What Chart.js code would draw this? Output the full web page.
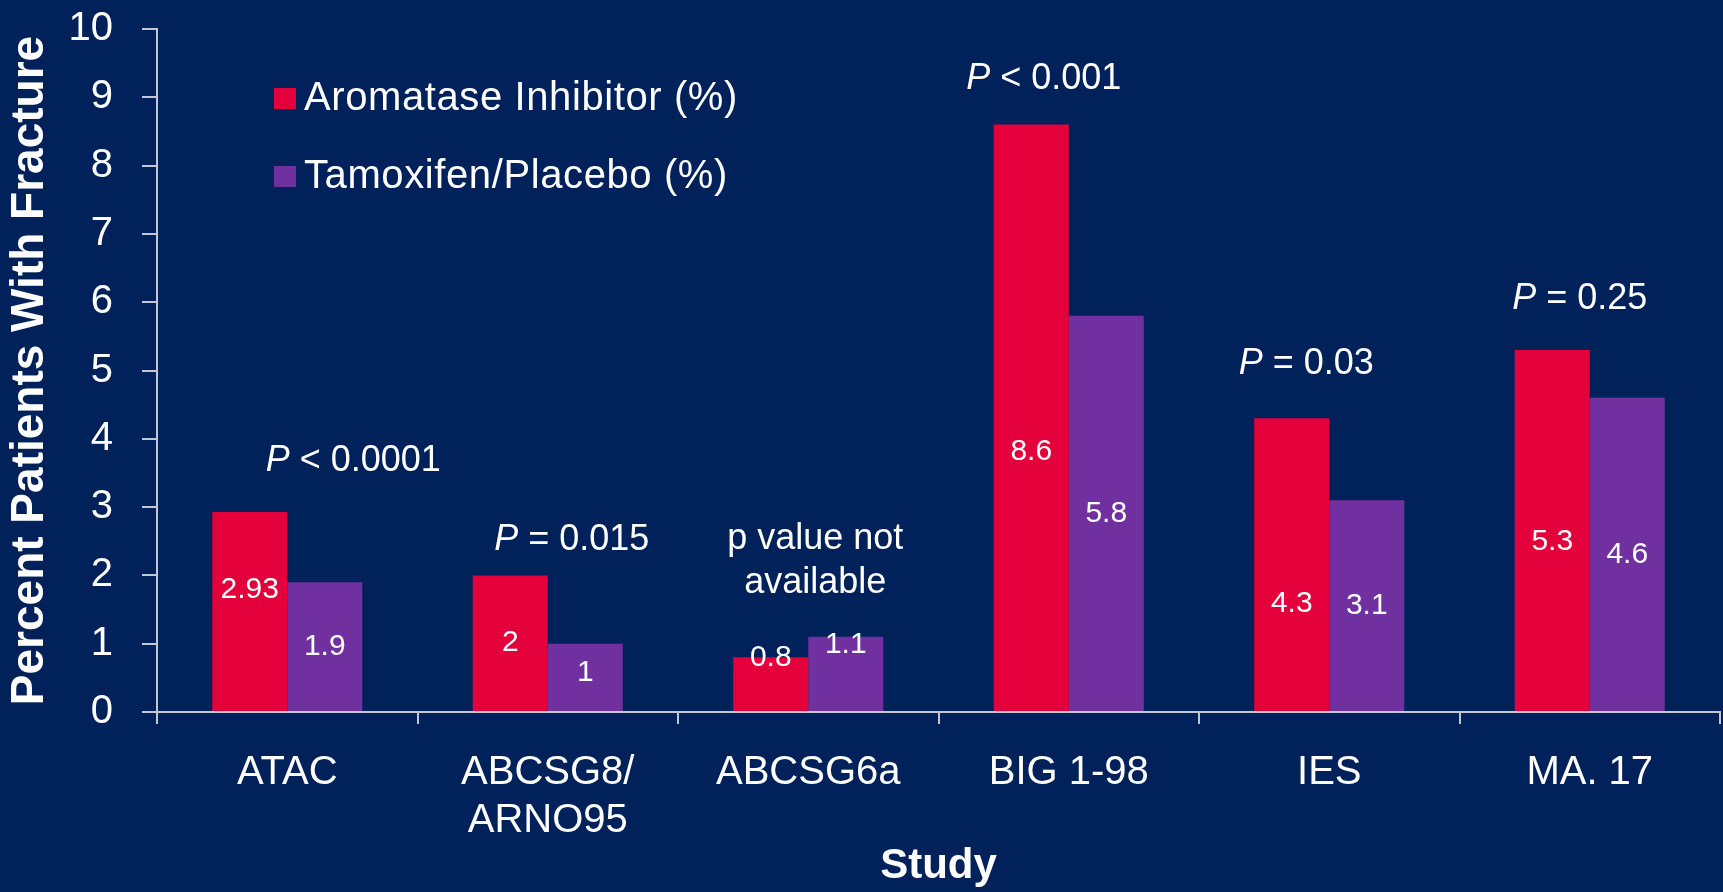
<!DOCTYPE html>
<html>
<head>
<meta charset="utf-8">
<script src="https://cdn.jsdelivr.net/npm/chart.js@4.4.1/dist/chart.umd.min.js"></script>
<style>
  html, body { margin: 0; padding: 0; background: #00215A; }
  #wrap { width: 1723px; height: 892px; }
</style>
</head>
<body>
<div id="wrap"><canvas id="fractures" width="1723" height="892"></canvas></div>
<script>
// Fracture rates by adjuvant endocrine therapy trial
const studies = ['ATAC', ['ABCSG8/', 'ARNO95'], 'ABCSG6a', 'BIG 1-98', 'IES', 'MA. 17'];
const aromataseInhibitor = [2.93, 2, 0.8, 8.6, 4.3, 5.3];
const tamoxifenPlacebo = [1.9, 1, 1.1, 5.8, 3.1, 4.6];
const pValueNotes = ['P < 0.0001', 'P = 0.015', ['p value not', 'available'], 'P < 0.001', 'P = 0.03', 'P = 0.25'];
const seriesNames = ['Aromatase Inhibitor (%)', 'Tamoxifen/Placebo (%)'];
const yTickValues = [0, 1, 2, 3, 4, 5, 6, 7, 8, 9, 10];

const FONT = "'Liberation Sans', Arial, Helvetica, sans-serif";
const NAVY = '#00215A';
const RED = '#E4003B';
const PURPLE = '#7030A0';
const AXIS = '#C3C7D3';

// Pixel nudges for the in-bar value labels (per series, per study)
const valueLabelNudge = [
  [-22, 0, -26, 34, 39, 11],
  [0, -5, -29, 0, 0, 0]
];
// Horizontal / vertical nudges for the significance notes
const noteNudge = [
  { dx: 66, dy: 3 }, { dx: 24, dy: 19 }, { dx: 7, dy: 0 },
  { dx: -25, dy: 8 }, { dx: -23, dy: 0 }, { dx: -10, dy: 3 }
];

const background = {
  id: 'background',
  beforeDraw(chart) {
    const ctx = chart.ctx;
    ctx.save();
    ctx.fillStyle = NAVY;
    ctx.fillRect(0, 0, chart.width, chart.height);
    ctx.restore();
  }
};

const valueLabels = {
  id: 'valueLabels',
  afterDatasetsDraw(chart) {
    const ctx = chart.ctx;
    ctx.save();
    ctx.font = '30px ' + FONT;
    ctx.fillStyle = '#FFFFFF';
    ctx.textAlign = 'center';
    ctx.textBaseline = 'middle';
    chart.data.datasets.forEach((ds, di) => {
      const meta = chart.getDatasetMeta(di);
      meta.data.forEach((bar, i) => {
        const y = (bar.y + bar.base) / 2 + valueLabelNudge[di][i];
        ctx.fillText(String(ds.data[i]), bar.x, y);
      });
    });
    ctx.restore();
  }
};

const significanceNotes = {
  id: 'significanceNotes',
  afterDatasetsDraw(chart) {
    const ctx = chart.ctx;
    const xs = chart.scales.x, ys = chart.scales.y;
    ctx.save();
    ctx.fillStyle = '#FFFFFF';
    ctx.textBaseline = 'middle';
    pValueNotes.forEach((note, i) => {
      const cx = xs.getPixelForValue(i) + noteNudge[i].dx;
      const peak = Math.max(aromataseInhibitor[i], tamoxifenPlacebo[i]);
      const baseY = ys.getPixelForValue(peak) - 54 + noteNudge[i].dy;
      const lines = Array.isArray(note) ? note : [note];
      lines.forEach((line, li) => {
        const y = baseY - (lines.length - 1 - li) * 44;
        if (line.startsWith('P ')) {
          const rest = line.slice(1);
          ctx.font = 'italic 36px ' + FONT;
          const wP = ctx.measureText('P').width;
          ctx.font = '36px ' + FONT;
          const wR = ctx.measureText(rest).width;
          const x0 = cx - (wP + wR) / 2;
          ctx.textAlign = 'left';
          ctx.font = 'italic 36px ' + FONT;
          ctx.fillText('P', x0, y);
          ctx.font = '36px ' + FONT;
          ctx.fillText(rest, x0 + wP, y);
        } else {
          ctx.font = '36px ' + FONT;
          ctx.textAlign = 'center';
          ctx.fillText(line, cx, y);
        }
      });
    });
    ctx.restore();
  }
};

const insetLegend = {
  id: 'insetLegend',
  afterDraw(chart) {
    const ctx = chart.ctx;
    const o = chart.options.plugins.insetLegend;
    ctx.save();
    ctx.font = '40px ' + FONT;
    ctx.letterSpacing = '0.6px';
    ctx.textBaseline = 'middle';
    ctx.textAlign = 'left';
    chart.data.datasets.forEach((ds, i) => {
      const cy = o.top + i * o.rowGap;
      ctx.fillStyle = ds.backgroundColor;
      ctx.fillRect(o.left, cy - o.box / 2, o.box, o.box - 1);
      ctx.fillStyle = '#FFFFFF';
      ctx.fillText(ds.label, o.left + o.box + 8, cy);
    });
    ctx.restore();
  }
};

new Chart(document.getElementById('fractures'), {
  type: 'bar',
  data: {
    labels: studies,
    datasets: [
      { label: seriesNames[0], data: aromataseInhibitor, backgroundColor: RED, borderWidth: 0,
        categoryPercentage: 0.576, barPercentage: 1.0 },
      { label: seriesNames[1], data: tamoxifenPlacebo, backgroundColor: PURPLE, borderWidth: 0,
        categoryPercentage: 0.576, barPercentage: 1.0 }
    ]
  },
  options: {
    responsive: false,
    animation: false,
    devicePixelRatio: 1,
    layout: { padding: { top: 29, right: 3, left: 0, bottom: 0 } },
    plugins: {
      legend: { display: false },
      tooltip: { enabled: false },
      insetLegend: { left: 274, top: 99, rowGap: 78, box: 22 }
    },
    scales: {
      x: {
        offset: true,
        grid: { display: true, drawOnChartArea: false, drawTicks: true, tickLength: 12,
                color: AXIS, lineWidth: 2, offset: true },
        border: { display: true, color: AXIS, width: 2 },
        ticks: { color: '#FFFFFF', font: { family: FONT, size: 40 }, padding: 25,
                 maxRotation: 0, autoSkip: false },
        title: { display: true, text: 'Study', color: '#FFFFFF',
                 font: { family: FONT, size: 42, weight: 'bold' }, padding: { top: 0, bottom: 0 } },
        afterFit(scale) { scale.height = 180; }
      },
      y: {
        min: 0,
        max: 10,
        afterBuildTicks(scale) { scale.ticks = yTickValues.map(v => ({ value: v })); },
        grid: { display: true, drawOnChartArea: false, drawTicks: true, tickLength: 15,
                color: AXIS, lineWidth: 2 },
        border: { display: true, color: AXIS, width: 2 },
        ticks: { color: '#FFFFFF', font: { family: FONT, size: 40 }, padding: 29 },
        title: { display: true, text: 'Percent Patients With Fracture', color: '#FFFFFF',
                 font: { family: FONT, size: 46, weight: 'bold' }, padding: { top: 3, bottom: 0 } },
        afterFit(scale) {
          scale.width = 157;
          scale.paddingTop = 0;
          scale.paddingBottom = 0;
        }
      }
    }
  },
  plugins: [background, valueLabels, significanceNotes, insetLegend]
});
</script>
</body>
</html>
